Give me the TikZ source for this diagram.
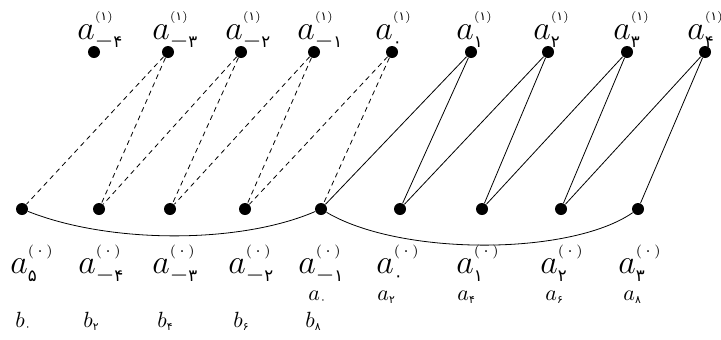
\RequirePackage{fix-cm}
\documentclass[tikz,border=0pt]{standalone}
\usepackage{amsmath}
\usepackage{fontspec}
\newfontfamily\fafont[Script=Arabic]{DejaVu Sans}
\usetikzlibrary{calc}
\newcommand{\fd}[1]{\text{\fafont\scalebox{0.7}{#1}}}
\newcommand{\uptop}[1]{^{\raisebox{3pt}{\fontsize{6}{7}\selectfont({\fafont #1})}}}
\newcommand{\upbot}[1]{^{\raisebox{2.5pt}{\fontsize{7}{8}\selectfont(\,{\fafont #1}\,)}}}
\tikzset{
  vdot/.style   = {circle, fill=black, minimum size=6pt, inner sep=0pt},
  biglab/.style = {font=\fontsize{17}{19}\selectfont, inner sep=0pt, anchor=base west},
  smlab/.style  = {font=\fontsize{11}{13}\selectfont, inner sep=0pt, anchor=base west},
  edgd/.style   = {draw=black, line width=0.4pt, dash pattern=on 2.5pt off 2pt},
  edgs/.style   = {draw=black, line width=0.4pt},
}
\begin{document}
\begin{tikzpicture}[x=0.5pt,y=-0.5pt]
  \useasboundingbox (0,0) rectangle (721,339);
  % upper row
  \foreach \k/\x in {0/94,1/168,2/241,3/314,4/392,5/471,6/548,7/627,8/705}
    \node[vdot] (t\k) at (\x,52) {};
  % lower row
  \foreach \k/\x in {0/22,1/99,2/170,3/245,4/321,5/400,6/482,7/561,8/638}
    \node[vdot] (b\k) at (\x,209) {};

  % labels of the upper row
  \foreach \k/\x/\s in {0/77/-\fd{۴},1/152/-\fd{۳},2/225/-\fd{۲},3/297/-\fd{۱},
                        4/375/\fd{۰},5/456/\fd{۱},6/533/\fd{۲},7/613/\fd{۳},8/687/\fd{۴}}
    \node[biglab] (tl\k) at (\x,39) {$a_{\s}\uptop{۱}$};
  % labels of the lower row
  \foreach \k/\x/\s in {0/10/\fd{۵},1/78/-\fd{۴},2/152/-\fd{۳},3/228/-\fd{۲},4/298/-\fd{۱},
                        5/376/\fd{۰},6/456/\fd{۱},7/540/\fd{۲},8/618/\fd{۳}}
    \node[biglab] (bl\k) at (\x,273) {$a_{\s}\upbot{۰}$};
  \foreach \k/\x/\s in {4/308/۰,5/377/۲,6/457/۴,7/545/۶,8/623/۸}
    \node[smlab] (al\k) at (\x,300) {$a_{\fd{\s}}$};
  \foreach \k/\x/\s in {0/15/۰,1/83/۲,2/157/۴,3/233/۶,4/305/۸}
    \node[smlab] (cl\k) at (\x,327) {$b_{\fd{\s}}$};

  % connections
  \foreach \k in {1,...,4} {
    \pgfmathtruncatemacro\j{\k-1}
    \draw[edgd] (t\k) -- (b\j);
    \draw[edgd] (t\k) -- (b\k);
  }
  \foreach \k in {5,...,8} {
    \pgfmathtruncatemacro\j{\k-1}
    \draw[edgs] (t\k) -- (b\j);
    \draw[edgs] (t\k) -- (b\k);
  }
  \draw[edgs] (b0) .. controls (110,244) and (240,244) .. (b4);
  \draw[edgs] (b4) .. controls (400,256) and (570,256) .. (b8);
\end{tikzpicture}
\end{document}
